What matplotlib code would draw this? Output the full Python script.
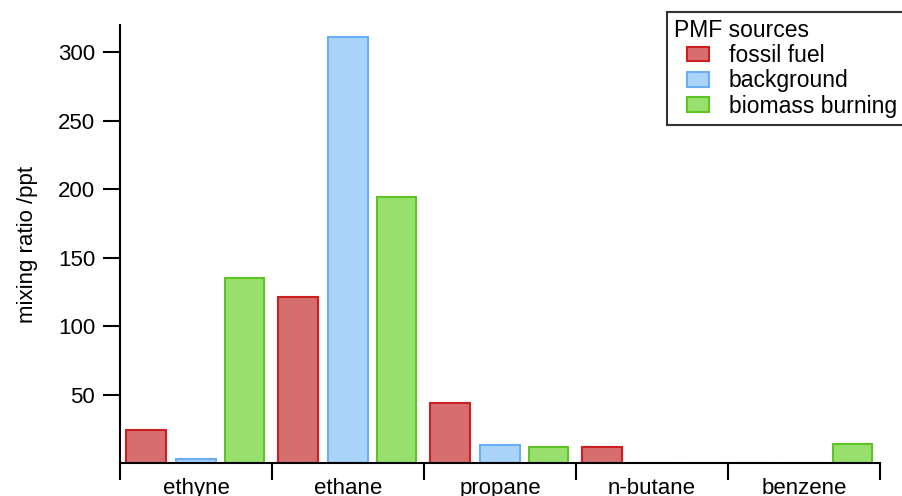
#!/usr/bin/env python3
import numpy as np
import matplotlib
matplotlib.use('Agg')
import matplotlib.pyplot as plt
from matplotlib.patches import Rectangle
from matplotlib.container import BarContainer
from matplotlib.legend_handler import HandlerPatch

plt.rcParams['font.family'] = ['Liberation Sans', 'DejaVu Sans']

species = ['ethyne', 'ethane', 'propane', 'n-butane', 'benzene']
sources = ['fossil fuel', 'background', 'biomass burning']
fossil = [24, 121, 44, 12, 0]
background = [3, 311, 13, 0, 0]
biomass = [135, 194, 12, 0, 14]

fills = ['#d66d6f', '#aad3fa', '#98e06e']
edges = ['#cc1f1f', '#6aaef2', '#5cc424']

fig = plt.figure(figsize=(9.03, 4.96), dpi=100)
ax = fig.add_axes([120 / 903, 1 - 463 / 496, 760 / 903, 438 / 496])

x = np.arange(len(species))
w = 0.26
offs = [-0.33, 0.0, 0.32]
for vals, off, fc, ec, lab in zip([fossil, background, biomass], offs, fills, edges, sources):
    ax.bar(x + off, vals, w, color=fc, edgecolor=ec, linewidth=1.5, label=lab)

ax.set_xlim(-0.5, len(species) - 0.5)
ax.set_ylim(0, 320)
ax.set_yticks([50, 100, 150, 200, 250, 300])
ax.tick_params(axis='y', direction='out', length=12, width=1.5, labelsize=16, pad=6)

# boundary ticks without labels, labels at category centres
ax.set_xticks(np.arange(len(species) + 1) - 0.5)
ax.set_xticklabels([])
ax.set_xticks(x, minor=True)
ax.set_xticklabels(species, minor=True)
ax.tick_params(axis='x', which='major', direction='out', length=12, width=1.5)
ax.tick_params(axis='x', which='minor', length=0, labelsize=16, pad=11)

for s in ['top', 'right']:
    ax.spines[s].set_visible(False)
for s in ['left', 'bottom']:
    ax.spines[s].set_linewidth(1.5)

ax.set_ylabel('mixing ratio /ppt', fontsize=16, labelpad=14)


def indented_box(legend, orig_handle, xdescent, ydescent, width, height, fontsize):
    shift = width * 0.38
    return Rectangle((-xdescent + shift, -ydescent), width - shift, height)


def from_first_bar(tgt, src):
    tgt.update_from(src.patches[0])


leg = fig.legend(loc='upper left', bbox_to_anchor=(667 / 903, 1 - 12 / 496),
                 title='PMF sources', fontsize=16.5, title_fontsize=16.5,
                 alignment='left', frameon=True, fancybox=False, edgecolor='black',
                 borderaxespad=0, borderpad=0.3, handlelength=1.55, handleheight=0.6,
                 handletextpad=0.85, labelspacing=0.1,
                 handler_map={BarContainer: HandlerPatch(patch_func=indented_box,
                                                         update_func=from_first_bar)})
leg.get_frame().set_linewidth(1.5)

plt.savefig('out.png', dpi=100)
